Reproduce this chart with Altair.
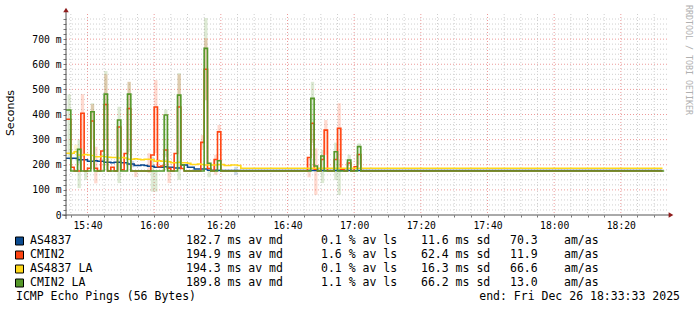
import altair as alt
import pandas as pd

# ---------------- data (minutes after 15:00) ----------------
START = 33.55          # 15:33:33
END = 213.55           # 18:33:33
LINE_END = 212.5
EARLY_T0 = 34          # first minute of the busy early window
MID_T0 = 105           # first minute of the busy middle window

SERIES = ["AS4837", "CMIN2", "AS4837 LA", "CMIN2 LA"]
COLORS = ["#0b4b90", "#ff4512", "#ffd819", "#55982a"]

BLUE_EARLY = [226, 226, 226, 220, 220, 220, 214, 214, 216, 214, 214, 210, 210, 208, 210, 210,
              208, 208, 203, 203, 197, 197, 199, 197, 194, 194, 190, 190, 190, 192, 190, 190,
              187, 187, 199, 199, 190, 190, 183, 183, 183, 183, 178, 178, 178,
              177, 177, 177, 177, 177, 177, 177, 177]
RED_EARLY = [381, 190, 175, 175, 405, 175, 186, 374, 186, 175, 255, 440, 175, 190, 175, 350,
             180, 245, 424, 175, 175, 175, 175, 175, 175, 239, 430, 192, 195, 259, 186, 175,
             245, 430, 185, 175, 175, 175, 175, 175, 289, 580, 185, 175, 221, 331,
             175, 175, 175, 175, 175, 175, 175]
YELLOW_EARLY = [246, 246, 252, 239, 239, 241, 239, 237, 232, 232, 234, 232, 230, 229, 229, 227,
                229, 227, 222, 222, 224, 222, 220, 222, 222, 220, 214, 216, 214, 214, 212, 208,
                208, 210, 208, 208, 206, 201, 201, 203, 201, 199, 199, 199, 199, 201, 201,
                197, 197, 199, 199, 197, 186]
GREEN_EARLY = [418, 175, 175, 261, 175, 175, 175, 411, 175, 175, 175, 481, 175, 175, 175, 378,
               175, 175, 481, 175, 175, 175, 175, 175, 175, 175, 175, 175, 175, 398, 175, 175,
               175, 477, 200, 175, 175, 175, 175, 175, 175, 663, 206, 175, 175, 216,
               175, 175, 175, 175, 175, 175, 175]

RED_MID = [175, 229, 365, 182, 175, 221, 338, 175, 175, 221, 345, 182, 175, 207, 175, 192, 241, 175]
GREEN_MID = [175, 175, 464, 195, 175, 235, 175, 175, 175, 252, 175, 175, 175, 219, 175, 175, 272, 175]

FLAT = [177, 175, 186, 175]

# smoke: (minute, low, high)
BLUE_SMOKE = [(37, 205, 240), (53, 190, 215), (84, 159, 192)]
RED_SMOKE = [(38, 230, 481), (41, 370, 441), (42, 126, 272), (45, 420, 560), (52, 420, 530),
             (54, 151, 179), (58, 167, 246), (60, 246, 537), (64, 127, 186), (67, 430, 560),
             (74, 259, 318), (75, 457, 704), (78, 160, 240), (79, 330, 358), (106, 150, 229),
             (108, 80, 265), (111, 239, 378), (115, 171, 445)]
YELLOW_SMOKE = [(36, 252, 280)]
GREEN_SMOKE = [(34, 230, 480), (37, 107, 300), (39, 140, 175), (41, 300, 445), (45, 300, 573),
               (49, 127, 431), (52, 250, 530), (59, 93, 232), (60, 93, 175), (63, 230, 420),
               (67, 140, 565), (75, 457, 784), (76, 150, 180), (107, 286, 530), (110, 127, 259),
               (114, 139, 288), (115, 80, 219), (118, 195, 240), (121, 200, 285)]

MD = [182.7, 194.9, 194.3, 189.8]
LS = [0.1, 1.6, 0.1, 1.1]
SD = [11.6, 62.4, 16.3, 66.2]
AMAS = [70.3, 11.9, 66.6, 13.0]

Y_TICKS = list(range(0, 800, 20))
Y_MINOR = [v for v in range(20, 800, 20) if v % 100 != 0]
Y_MAJOR = [100, 200, 300, 400, 500, 600, 700]
X_TICKS = list(range(35, 214, 5))
X_MINOR = [v for v in range(35, 214, 5) if v % 20 != 0]
X_MAJOR = [40, 60, 80, 100, 120, 140, 160, 180, 200]

# ---------------- build tables ----------------
EARLY = [BLUE_EARLY, RED_EARLY, YELLOW_EARLY, GREEN_EARLY]
MID = [None, RED_MID, None, GREEN_MID]
SMOKE = [BLUE_SMOKE, RED_SMOKE, YELLOW_SMOKE, GREEN_SMOKE]


def line_table(k):
    early, mid, flat = EARLY[k], MID[k], FLAT[k]
    rows = [(START, early[0])]
    rows += [(EARLY_T0 + i, v) for i, v in enumerate(early)]
    rows.append((EARLY_T0 + len(early), flat))
    if mid:
        rows += [(MID_T0 + j, v) for j, v in enumerate(mid)]
        rows.append((MID_T0 + len(mid), flat))
    end = LINE_END + (0.5 if k == 3 else 0)
    rows.append((end, flat))
    return pd.DataFrame(rows, columns=["t", "v"])


def smoke_table(k):
    return pd.DataFrame([{"t": t, "t2": t + 1, "lo": lo, "hi": hi} for t, lo, hi in SMOKE[k]])


W, H = 600, 201
XS = alt.Scale(domain=[START, END], nice=False, zero=False)
YS = alt.Scale(domain=[0, 800], nice=False, zero=False)
MONO = "DejaVu Sans Mono"
NB = "\u00a0"

XAXIS = alt.Axis(values=X_TICKS, title=None, domain=False, grid=False, tickSize=2,
                 tickColor="#777777", labelFont=MONO, labelFontSize=9.7, labelColor="#000000",
                 labelPadding=3, labelOverlap=False,
                 labelExpr="datum.value % 20 == 0 ? (floor(datum.value / 60) + 15) + ':' + "
                           "(datum.value % 60 < 10 ? '0' : '') + (datum.value % 60) : ''")
YAXIS = alt.Axis(values=Y_TICKS, title=None, domain=False, grid=False, tickSize=3,
                 tickColor="#777777", labelFont=MONO, labelFontSize=9.7, labelColor="#000000",
                 labelPadding=2, labelOverlap=False,
                 labelExpr="datum.value % 100 == 0 ? (datum.value == 0 ? '0" + NB + NB +
                           "' : datum.value + ' m') : ''")

layers = []

# grid
layers.append(alt.Chart(pd.DataFrame({"v": Y_MINOR})).mark_rule(
    color="#cfcfcf", strokeDash=[1, 2], strokeWidth=1).encode(
    y=alt.Y("v:Q", scale=YS, axis=YAXIS), x=alt.value(0), x2=alt.value(W + 2)))
layers.append(alt.Chart(pd.DataFrame({"v": X_MINOR})).mark_rule(
    color="#cfcfcf", strokeDash=[1, 2], strokeWidth=1).encode(
    x=alt.X("v:Q", scale=XS, axis=XAXIS), y=alt.value(0), y2=alt.value(H)))
layers.append(alt.Chart(pd.DataFrame({"v": Y_MAJOR})).mark_rule(
    color="#ec9a9a", strokeDash=[1, 2], strokeWidth=1).encode(
    y=alt.Y("v:Q", scale=YS, axis=YAXIS), x=alt.value(0), x2=alt.value(W + 2)))
layers.append(alt.Chart(pd.DataFrame({"v": X_MAJOR})).mark_rule(
    color="#ec9a9a", strokeDash=[1, 2], strokeWidth=1).encode(
    x=alt.X("v:Q", scale=XS, axis=XAXIS), y=alt.value(0), y2=alt.value(H)))

# smoke
for k in range(4):
    layers.append(alt.Chart(smoke_table(k)).mark_rect(opacity=0.2, color=COLORS[k]).encode(
        x=alt.X("t:Q", scale=XS, axis=XAXIS), x2="t2:Q",
        y=alt.Y("lo:Q", scale=YS, axis=YAXIS), y2="hi:Q"))

# median step lines
for k in range(4):
    layers.append(alt.Chart(line_table(k)).mark_line(
        interpolate="step-after", strokeWidth=1.6, color=COLORS[k]).encode(
        x=alt.X("t:Q", scale=XS, axis=XAXIS), y=alt.Y("v:Q", scale=YS, axis=YAXIS)))

one = pd.DataFrame({"a": [0]})
# axis lines and arrows
layers.append(alt.Chart(one).mark_rule(color="#555555", strokeWidth=1).encode(
    x=alt.value(0), y=alt.value(-5), y2=alt.value(H + 4)))
layers.append(alt.Chart(one).mark_rule(color="#555555", strokeWidth=1).encode(
    x=alt.value(-4), x2=alt.value(W + 5), y=alt.value(H)))
layers.append(alt.Chart(one).mark_point(shape="triangle-up", filled=True, size=30,
                                        color="#8f1d1d", opacity=1).encode(
    x=alt.value(0), y=alt.value(-4)))
layers.append(alt.Chart(one).mark_point(shape="triangle-right", filled=True, size=30,
                                        color="#8f1d1d", opacity=1).encode(
    x=alt.value(W + 5), y=alt.value(H)))


def txt(s, x, y, size=11.5, align="left", angle=0, color="#000000", font=MONO):
    kw = dict(align=align, baseline="middle", font=font, fontSize=size, color=color)
    if angle:
        kw["angle"] = angle
    return alt.Chart(one).mark_text(**kw).encode(
        x=alt.value(x), y=alt.value(y), text=alt.value(s))


# legend
for r in range(4):
    yy = 227 + 14 * r
    layers.append(alt.Chart(one).mark_square(size=64, filled=True, color=COLORS[r],
                                             stroke="#000000", strokeWidth=1, opacity=1).encode(
        x=alt.value(-46.5), y=alt.value(yy)))
    layers.append(txt(SERIES[r], -36, yy))
    layers.append(txt(f"{MD[r]:.1f} ms av md", 120, yy))
    layers.append(txt(f"{LS[r]:.1f} % av ls", 255, yy))
    layers.append(txt(f"{SD[r]:.1f} ms sd", 355, yy))
    layers.append(txt(f"{AMAS[r]:.1f}", 444, yy))
    layers.append(txt("am/as", 498, yy))

layers.append(txt("ICMP Echo Pings (56 Bytes)", -50, 283))
layers.append(txt("end: Fri Dec 26 18:33:33 2025", 614, 283, align="right"))
layers.append(txt("Seconds", -55, 99, size=11, align="center", angle=270, font="DejaVu Sans"))
layers.append(txt("RRDTOOL / TOBI OETIKER", 621.5, 46, size=8.3, align="center", angle=90,
                  color="#b0b0b0"))

chart = alt.layer(*layers).properties(
    width=W, height=H,
    autosize=alt.AutoSizeParams(type="none"),
    padding={"left": 66, "top": 14, "right": 31, "bottom": 96},
    background="#ffffff",
).configure_view(strokeWidth=0)

chart.save("out.html", embed_options={"renderer": "svg", "actions": False})
